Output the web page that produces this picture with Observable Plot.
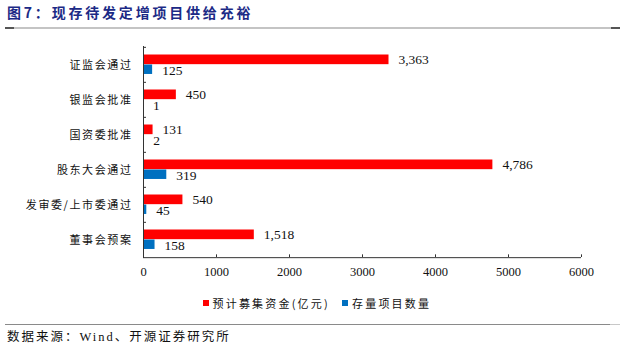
<!DOCTYPE html>
<html>
<head>
<meta charset="utf-8">
<script src="https://cdn.jsdelivr.net/npm/d3@7"></script>
<script src="https://cdn.jsdelivr.net/npm/@observablehq/plot@0.6"></script>
<style>
  body { margin: 0; background: #fff; }
  #wrap { position: relative; width: 637px; height: 353px; overflow: hidden; }
  #title { position: absolute; left: 7px; top: 3px; font-family: "Noto Sans CJK SC", sans-serif; font-weight: bold; font-size: 14px; letter-spacing: 2.8px; color: #1c2a86; white-space: nowrap; line-height: 18px; }
  .hline { position: absolute; left: 5px; width: 615px; }
  #topline { top: 27px; height: 1.6px; background: linear-gradient(to right, #555 0, #555 9px, #c4c4c4 9px, #c4c4c4 606px, #555 606px); }
  #botline { top: 323.5px; height: 1.4px; background: linear-gradient(to right, #8a8a8a 0, #8a8a8a 605px, #c8c8c8 605px); }
  #chart { position: absolute; left: 0; top: 0; }
  #legend { position: absolute; left: 0; top: 294px; width: 637px; height: 18px; font-family: "Noto Sans CJK SC", sans-serif; font-size: 11px; letter-spacing: 2.2px; color: #111; }
  .lg { position: absolute; top: 0; display: flex; align-items: center; height: 18px; white-space: nowrap; }
  .sw { display: inline-block; width: 6px; height: 6px; margin-right: 4px; }
  #source { position: absolute; left: 7px; top: 327px; font-family: "Liberation Serif", "Noto Sans CJK SC", serif; font-size: 12.5px; letter-spacing: 2px; color: #111; white-space: nowrap; line-height: 18px; }
  #source .cjk { font-family: "Noto Sans CJK SC", sans-serif; }
  svg g[aria-label="y-axis tick label"] text { letter-spacing: 1.6px; }
</style>
</head>
<body>
<div id="wrap">
  <div id="title">图7：现存待发定增项目供给充裕</div>
  <div id="topline" class="hline"></div>
  <div id="chart"></div>
  <div id="legend"></div>
  <div id="botline" class="hline"></div>
  <div id="source"><span class="cjk">数据来源：</span>Wind<span class="cjk">、开源证券研究所</span></div>
</div>
<script>
const categories = ["证监会通过", "银监会批准", "国资委批准", "股东大会通过", "发审委/上市委通过", "董事会预案"];
const fundraising = [3363, 450, 131, 4786, 540, 1518];
const projectCount = [125, 1, 2, 319, 45, 158];
const xTicks = [0, 1000, 2000, 3000, 4000, 5000, 6000];
const seriesNames = ["预计募集资金(亿元)", "存量项目数量"];
const seriesColors = ["#ff0000", "#0070c0"];

const data = categories.map((c, i) => ({cat: c, funds: fundraising[i], count: projectCount[i]}));

const W = 637, H = 290, mt = 46, mb = 32, ml = 143, mr = 56;
const bw = (H - mt - mb) / categories.length;
const numFont = "Liberation Serif, Times New Roman, serif";
const fmt = d3.format(",");

const chart = Plot.plot({
  width: W, height: H,
  marginTop: mt, marginBottom: mb, marginLeft: ml, marginRight: mr,
  style: {background: "transparent", color: "#000"},
  x: {domain: [0, 6000], ticks: xTicks},
  y: {type: "band", domain: categories, padding: 0},
  marks: [
    Plot.barX(data, {x: "funds", y: "cat", fill: seriesColors[0], insetTop: 7.5, insetBottom: bw - 17.5}),
    Plot.barX(data, {x: "count", y: "cat", fill: seriesColors[1], insetTop: 17.5, insetBottom: bw - 27.3}),
    Plot.text(data, {x: "funds", y: "cat", text: d => fmt(d.funds), dx: 9.5, dy: -5, textAnchor: "start", fontFamily: numFont, fontSize: 13.5, fill: "#111"}),
    Plot.text(data, {x: "count", y: "cat", text: d => fmt(d.count), dx: 9.5, dy: 6, textAnchor: "start", fontFamily: numFont, fontSize: 13.5, fill: "#111"}),
    Plot.ruleX([0], {stroke: "#333", strokeWidth: 1}),
    Plot.ruleY([categories[categories.length - 1]], {dy: bw / 2, stroke: "#333", strokeWidth: 1}),
    Plot.axisX({ticks: xTicks, tickSize: 0, tickPadding: 9, tickFormat: d => String(d), fontFamily: numFont, fontSize: 12.5, fill: "#111", label: null}),
    Plot.tickX(xTicks, {x: d => d, y: () => categories[categories.length - 1], insetTop: bw - 3, stroke: "#333"}),
    Plot.axisY({tickSize: 0, tickPadding: 11, fontFamily: "Noto Sans CJK SC, sans-serif", fontSize: 11, fill: "#111", label: null}),
    Plot.axisY({tickSize: -3, dy: -bw / 2, tickFormat: () => "", stroke: "#333", label: null})
  ]
});
document.getElementById("chart").appendChild(chart);

// legend
const legend = document.getElementById("legend");
const lgX = [202.5, 342];
seriesNames.forEach((name, i) => {
  const item = document.createElement("div");
  item.className = "lg";
  item.style.left = lgX[i] + "px";
  const sw = document.createElement("span");
  sw.className = "sw";
  sw.style.background = seriesColors[i];
  const t = document.createElement("span");
  t.textContent = name;
  item.appendChild(sw);
  item.appendChild(t);
  legend.appendChild(item);
});
</script>
</body>
</html>
